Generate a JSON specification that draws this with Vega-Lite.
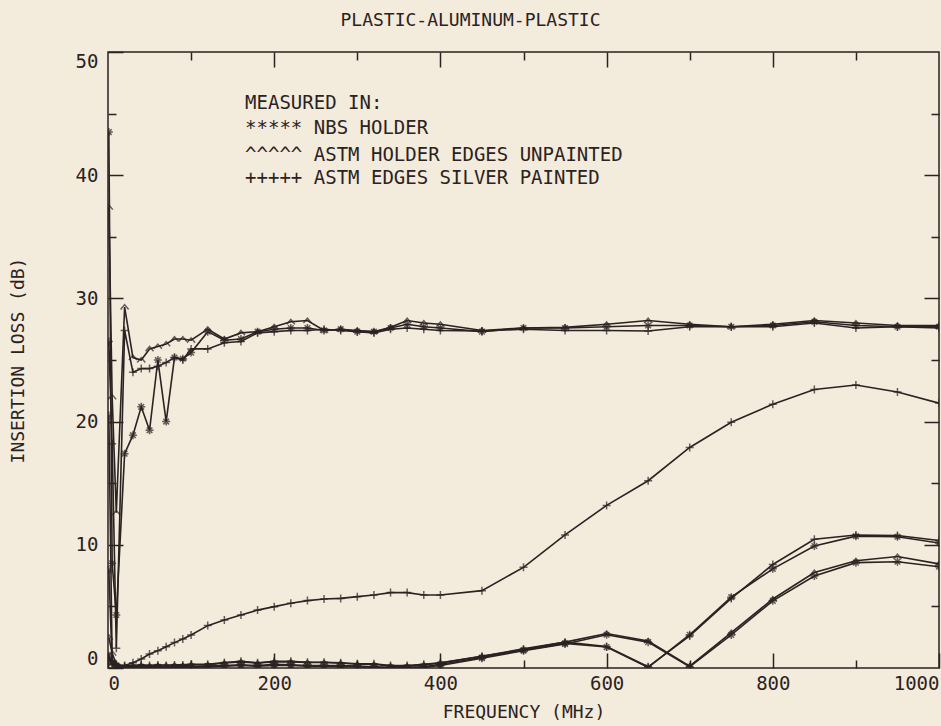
{
  "$schema": "https://vega.github.io/schema/vega-lite/v6.json",
  "width": 831,
  "height": 616,
  "autosize": {"type": "none"},
  "padding": {"left": 108, "top": 52, "right": 2, "bottom": 58},
  "background": "#f3ebdb",
  "config": {
    "view": {"stroke": "#2b2222", "strokeWidth": 1.5},
    "font": "DejaVu Sans Mono",
    "axis": {
      "grid": false, "domain": false,
      "tickColor": "#2b2222", "tickWidth": 1.5,
      "labelColor": "#2b2222", "titleColor": "#2b2222",
      "labelFont": "DejaVu Sans Mono", "titleFont": "DejaVu Sans Mono",
      "labelFontSize": 19, "titleFontSize": 18, "titleFontWeight": "normal",
      "labelOverlap": false
    }
  },
  "title": {
    "text": "PLASTIC-ALUMINUM-PLASTIC",
    "font": "DejaVu Sans Mono", "fontSize": 18, "fontWeight": "normal",
    "color": "#2b2222", "anchor": "middle", "dx": -53, "offset": 21
  },
  "data": {"values": [
    {"c":"U","f":1,"v":37.4},{"c":"U","f":5,"v":22.0},{"c":"U","f":10,"v":12.6},{"c":"U","f":20,"v":29.3},{"c":"U","f":30,"v":25.2},{"c":"U","f":40,"v":25.0},{"c":"U","f":50,"v":25.9},{"c":"U","f":60,"v":26.1},{"c":"U","f":70,"v":26.3},{"c":"U","f":80,"v":26.7},{"c":"U","f":90,"v":26.7},{"c":"U","f":100,"v":26.6},{"c":"U","f":120,"v":27.5},{"c":"U","f":140,"v":26.7},{"c":"U","f":160,"v":27.2},{"c":"U","f":180,"v":27.3},{"c":"U","f":200,"v":27.7},{"c":"U","f":220,"v":28.1},{"c":"U","f":240,"v":28.2},{"c":"U","f":260,"v":27.4},{"c":"U","f":280,"v":27.5},{"c":"U","f":300,"v":27.4},{"c":"U","f":320,"v":27.3},{"c":"U","f":340,"v":27.65},{"c":"U","f":360,"v":28.2},{"c":"U","f":380,"v":28.0},{"c":"U","f":400,"v":27.9},{"c":"U","f":450,"v":27.4},{"c":"U","f":500,"v":27.6},{"c":"U","f":550,"v":27.65},{"c":"U","f":600,"v":27.9},{"c":"U","f":650,"v":28.2},{"c":"U","f":700,"v":27.9},{"c":"U","f":750,"v":27.7},{"c":"U","f":800,"v":27.9},{"c":"U","f":850,"v":28.2},{"c":"U","f":900,"v":28.0},{"c":"U","f":950,"v":27.8},{"c":"U","f":1000,"v":27.8},
    {"c":"P","f":1,"v":26.5},{"c":"P","f":5,"v":18.2},{"c":"P","f":10,"v":1.6},{"c":"P","f":20,"v":27.4},{"c":"P","f":30,"v":24.0},{"c":"P","f":40,"v":24.3},{"c":"P","f":50,"v":24.3},{"c":"P","f":60,"v":24.5},{"c":"P","f":70,"v":24.8},{"c":"P","f":80,"v":25.2},{"c":"P","f":90,"v":25.0},{"c":"P","f":100,"v":25.9},{"c":"P","f":120,"v":25.9},{"c":"P","f":140,"v":26.4},{"c":"P","f":160,"v":26.5},{"c":"P","f":180,"v":27.2},{"c":"P","f":200,"v":27.3},{"c":"P","f":220,"v":27.4},{"c":"P","f":240,"v":27.4},{"c":"P","f":260,"v":27.5},{"c":"P","f":280,"v":27.4},{"c":"P","f":300,"v":27.3},{"c":"P","f":320,"v":27.2},{"c":"P","f":340,"v":27.5},{"c":"P","f":360,"v":27.6},{"c":"P","f":380,"v":27.5},{"c":"P","f":400,"v":27.4},{"c":"P","f":450,"v":27.35},{"c":"P","f":500,"v":27.5},{"c":"P","f":550,"v":27.4},{"c":"P","f":600,"v":27.4},{"c":"P","f":650,"v":27.35},{"c":"P","f":700,"v":27.7},{"c":"P","f":750,"v":27.7},{"c":"P","f":800,"v":27.7},{"c":"P","f":850,"v":28.0},{"c":"P","f":900,"v":27.6},{"c":"P","f":950,"v":27.7},{"c":"P","f":1000,"v":27.6},
    {"c":"N","f":1,"v":43.5},{"c":"N","f":5,"v":8.5},{"c":"N","f":10,"v":4.3},{"c":"N","f":20,"v":17.4},{"c":"N","f":30,"v":18.9},{"c":"N","f":40,"v":21.2},{"c":"N","f":50,"v":19.3},{"c":"N","f":60,"v":25.0},{"c":"N","f":70,"v":20.0},{"c":"N","f":80,"v":25.2},{"c":"N","f":90,"v":25.1},{"c":"N","f":100,"v":25.6},{"c":"N","f":120,"v":27.3},{"c":"N","f":140,"v":26.6},{"c":"N","f":160,"v":26.7},{"c":"N","f":180,"v":27.3},{"c":"N","f":200,"v":27.5},{"c":"N","f":220,"v":27.6},{"c":"N","f":240,"v":27.6},{"c":"N","f":260,"v":27.4},{"c":"N","f":280,"v":27.5},{"c":"N","f":300,"v":27.3},{"c":"N","f":320,"v":27.3},{"c":"N","f":340,"v":27.6},{"c":"N","f":360,"v":27.9},{"c":"N","f":380,"v":27.7},{"c":"N","f":400,"v":27.6},{"c":"N","f":450,"v":27.3},{"c":"N","f":500,"v":27.6},{"c":"N","f":550,"v":27.6},{"c":"N","f":600,"v":27.7},{"c":"N","f":650,"v":27.8},{"c":"N","f":700,"v":27.8},{"c":"N","f":750,"v":27.7},{"c":"N","f":800,"v":27.8},{"c":"N","f":850,"v":28.1},{"c":"N","f":900,"v":27.8},{"c":"N","f":950,"v":27.7},{"c":"N","f":1000,"v":27.7},
    {"c":"R","f":1,"v":0.8},{"c":"R","f":5,"v":0.3},{"c":"R","f":10,"v":0.1},{"c":"R","f":20,"v":0.2},{"c":"R","f":30,"v":0.43},{"c":"R","f":40,"v":0.73},{"c":"R","f":50,"v":1.14},{"c":"R","f":60,"v":1.4},{"c":"R","f":70,"v":1.73},{"c":"R","f":80,"v":2.06},{"c":"R","f":90,"v":2.35},{"c":"R","f":100,"v":2.68},{"c":"R","f":120,"v":3.44},{"c":"R","f":140,"v":3.9},{"c":"R","f":160,"v":4.3},{"c":"R","f":180,"v":4.7},{"c":"R","f":200,"v":4.98},{"c":"R","f":220,"v":5.25},{"c":"R","f":240,"v":5.47},{"c":"R","f":260,"v":5.6},{"c":"R","f":280,"v":5.65},{"c":"R","f":300,"v":5.79},{"c":"R","f":320,"v":5.93},{"c":"R","f":340,"v":6.12},{"c":"R","f":360,"v":6.12},{"c":"R","f":380,"v":5.93},{"c":"R","f":400,"v":5.93},{"c":"R","f":450,"v":6.28},{"c":"R","f":500,"v":8.17},{"c":"R","f":550,"v":10.8},{"c":"R","f":600,"v":13.2},{"c":"R","f":650,"v":15.2},{"c":"R","f":700,"v":17.9},{"c":"R","f":750,"v":19.95},{"c":"R","f":800,"v":21.4},{"c":"R","f":850,"v":22.6},{"c":"R","f":900,"v":22.97},{"c":"R","f":950,"v":22.4},{"c":"R","f":1000,"v":21.5},
    {"c":"A1","f":1,"v":20.5},{"c":"A1","f":5,"v":0.6},{"c":"A1","f":10,"v":0.3},{"c":"A1","f":20,"v":0.15},{"c":"A1","f":30,"v":0.2},{"c":"A1","f":40,"v":0.25},{"c":"A1","f":50,"v":0.2},{"c":"A1","f":60,"v":0.25},{"c":"A1","f":70,"v":0.2},{"c":"A1","f":80,"v":0.25},{"c":"A1","f":90,"v":0.25},{"c":"A1","f":100,"v":0.3},{"c":"A1","f":120,"v":0.3},{"c":"A1","f":140,"v":0.45},{"c":"A1","f":160,"v":0.55},{"c":"A1","f":180,"v":0.42},{"c":"A1","f":200,"v":0.55},{"c":"A1","f":220,"v":0.55},{"c":"A1","f":240,"v":0.47},{"c":"A1","f":260,"v":0.47},{"c":"A1","f":280,"v":0.42},{"c":"A1","f":300,"v":0.35},{"c":"A1","f":320,"v":0.35},{"c":"A1","f":340,"v":0.2},{"c":"A1","f":360,"v":0.2},{"c":"A1","f":380,"v":0.3},{"c":"A1","f":400,"v":0.43},{"c":"A1","f":450,"v":0.95},{"c":"A1","f":500,"v":1.55},{"c":"A1","f":550,"v":2.1},{"c":"A1","f":600,"v":1.75},{"c":"A1","f":650,"v":0.1},{"c":"A1","f":700,"v":2.6},{"c":"A1","f":750,"v":5.65},{"c":"A1","f":800,"v":8.4},{"c":"A1","f":850,"v":10.45},{"c":"A1","f":900,"v":10.8},{"c":"A1","f":950,"v":10.75},{"c":"A1","f":1000,"v":10.35},
    {"c":"A2","f":1,"v":7.95},{"c":"A2","f":5,"v":0.5},{"c":"A2","f":10,"v":0.2},{"c":"A2","f":20,"v":0.05},{"c":"A2","f":30,"v":0.05},{"c":"A2","f":40,"v":0.1},{"c":"A2","f":50,"v":0.05},{"c":"A2","f":60,"v":0.1},{"c":"A2","f":70,"v":0.05},{"c":"A2","f":80,"v":0.1},{"c":"A2","f":90,"v":0.1},{"c":"A2","f":100,"v":0.1},{"c":"A2","f":120,"v":0.15},{"c":"A2","f":140,"v":0.2},{"c":"A2","f":160,"v":0.25},{"c":"A2","f":180,"v":0.2},{"c":"A2","f":200,"v":0.3},{"c":"A2","f":220,"v":0.25},{"c":"A2","f":240,"v":0.2},{"c":"A2","f":260,"v":0.2},{"c":"A2","f":280,"v":0.2},{"c":"A2","f":300,"v":0.15},{"c":"A2","f":320,"v":0.1},{"c":"A2","f":340,"v":0.05},{"c":"A2","f":360,"v":0.05},{"c":"A2","f":380,"v":0.1},{"c":"A2","f":400,"v":0.3},{"c":"A2","f":450,"v":0.85},{"c":"A2","f":500,"v":1.45},{"c":"A2","f":550,"v":2.0},{"c":"A2","f":600,"v":1.7},{"c":"A2","f":650,"v":0.05},{"c":"A2","f":700,"v":2.7},{"c":"A2","f":750,"v":5.75},{"c":"A2","f":800,"v":8.05},{"c":"A2","f":850,"v":9.9},{"c":"A2","f":900,"v":10.7},{"c":"A2","f":950,"v":10.65},{"c":"A2","f":1000,"v":10.15},
    {"c":"B1","f":1,"v":2.5},{"c":"B1","f":5,"v":1.2},{"c":"B1","f":10,"v":0.3},{"c":"B1","f":20,"v":0.1},{"c":"B1","f":30,"v":0.15},{"c":"B1","f":40,"v":0.2},{"c":"B1","f":50,"v":0.15},{"c":"B1","f":60,"v":0.2},{"c":"B1","f":70,"v":0.2},{"c":"B1","f":80,"v":0.2},{"c":"B1","f":90,"v":0.2},{"c":"B1","f":100,"v":0.25},{"c":"B1","f":120,"v":0.25},{"c":"B1","f":140,"v":0.4},{"c":"B1","f":160,"v":0.5},{"c":"B1","f":180,"v":0.4},{"c":"B1","f":200,"v":0.5},{"c":"B1","f":220,"v":0.5},{"c":"B1","f":240,"v":0.45},{"c":"B1","f":260,"v":0.45},{"c":"B1","f":280,"v":0.4},{"c":"B1","f":300,"v":0.3},{"c":"B1","f":320,"v":0.3},{"c":"B1","f":340,"v":0.15},{"c":"B1","f":360,"v":0.15},{"c":"B1","f":380,"v":0.25},{"c":"B1","f":400,"v":0.4},{"c":"B1","f":450,"v":0.95},{"c":"B1","f":500,"v":1.5},{"c":"B1","f":550,"v":2.1},{"c":"B1","f":600,"v":2.8},{"c":"B1","f":650,"v":2.2},{"c":"B1","f":700,"v":0.15},{"c":"B1","f":750,"v":2.87},{"c":"B1","f":800,"v":5.6},{"c":"B1","f":850,"v":7.75},{"c":"B1","f":900,"v":8.7},{"c":"B1","f":950,"v":9.05},{"c":"B1","f":1000,"v":8.45},
    {"c":"B2","f":1,"v":1.0},{"c":"B2","f":5,"v":0.4},{"c":"B2","f":10,"v":0.2},{"c":"B2","f":20,"v":0.0},{"c":"B2","f":30,"v":0.0},{"c":"B2","f":40,"v":0.05},{"c":"B2","f":50,"v":0.0},{"c":"B2","f":60,"v":0.05},{"c":"B2","f":70,"v":0.0},{"c":"B2","f":80,"v":0.05},{"c":"B2","f":90,"v":0.05},{"c":"B2","f":100,"v":0.05},{"c":"B2","f":120,"v":0.1},{"c":"B2","f":140,"v":0.15},{"c":"B2","f":160,"v":0.2},{"c":"B2","f":180,"v":0.15},{"c":"B2","f":200,"v":0.2},{"c":"B2","f":220,"v":0.2},{"c":"B2","f":240,"v":0.15},{"c":"B2","f":260,"v":0.15},{"c":"B2","f":280,"v":0.1},{"c":"B2","f":300,"v":0.1},{"c":"B2","f":320,"v":0.05},{"c":"B2","f":340,"v":0.0},{"c":"B2","f":360,"v":0.0},{"c":"B2","f":380,"v":0.05},{"c":"B2","f":400,"v":0.2},{"c":"B2","f":450,"v":0.8},{"c":"B2","f":500,"v":1.4},{"c":"B2","f":550,"v":1.95},{"c":"B2","f":600,"v":2.7},{"c":"B2","f":650,"v":2.1},{"c":"B2","f":700,"v":0.1},{"c":"B2","f":750,"v":2.68},{"c":"B2","f":800,"v":5.45},{"c":"B2","f":850,"v":7.47},{"c":"B2","f":900,"v":8.55},{"c":"B2","f":950,"v":8.63},{"c":"B2","f":1000,"v":8.22}
  ]},
  "resolve": {"axis": {"x": "independent", "y": "independent"}},
  "layer": [
    {
      "mark": {"type": "line", "color": "#2b2222", "strokeWidth": 1.6, "clip": true},
      "encoding": {
        "x": {"field": "f", "type": "quantitative", "scale": {"domain": [0, 1000], "nice": false, "zero": false},
              "axis": {"orient": "bottom", "values": [0, 200, 400, 600, 800, 1000], "format": "d", "tickSize": -15, "labelPadding": 21, "labelFlush": true,
                       "title": "FREQUENCY (MHz)", "titleY": 44, "titleBaseline": "middle"}},
        "y": {"field": "v", "type": "quantitative", "scale": {"domain": [0, 50], "nice": false},
              "axis": {"orient": "left", "values": [0, 10, 20, 30, 40, 50], "format": "d", "tickSize": -15, "labelPadding": 25, "labelFlush": true,
                       "title": "INSERTION LOSS (dB)", "titleX": -90, "titleBaseline": "middle"}},
        "detail": {"field": "c"}
      }
    },
    {
      "mark": {"type": "point", "filled": false, "color": "#2b2222", "strokeWidth": 1.5, "size": 64, "clip": true},
      "encoding": {
        "x": {"field": "f", "type": "quantitative",
              "axis": {"orient": "bottom", "values": [100, 300, 500, 700, 900], "tickSize": -8, "labels": false, "title": null}},
        "y": {"field": "v", "type": "quantitative",
              "axis": {"orient": "left", "values": [5, 15, 25, 35, 45], "tickSize": -8, "labels": false, "title": null}},
        "shape": {"field": "c", "type": "nominal", "legend": null,
                  "scale": {"domain": ["N", "U", "P", "R", "A1", "A2", "B1", "B2"],
                            "range": ["M-1,0L1,0M0,-1L0,1M-0.7,-0.7L0.7,0.7M-0.7,0.7L0.7,-0.7",
                                      "M-1,0.6L0,-0.6L1,0.6",
                                      "M-1,0L1,0M0,-1L0,1",
                                      "M-1,0L1,0M0,-1L0,1",
                                      "M-1,0L1,0M0,-1L0,1",
                                      "M-1,0L1,0M0,-1L0,1M-0.7,-0.7L0.7,0.7M-0.7,0.7L0.7,-0.7",
                                      "M-1,0.6L0,-0.6L1,0.6",
                                      "M-1,0L1,0M0,-1L0,1M-0.7,-0.7L0.7,0.7M-0.7,0.7L0.7,-0.7"]}}
      }
    },
    {
      "mark": {"type": "point", "opacity": 0},
      "encoding": {
        "x": {"field": "f", "type": "quantitative",
              "axis": {"orient": "top", "values": [200, 400, 600, 800], "tickSize": -15, "labels": false, "title": null}},
        "y": {"field": "v", "type": "quantitative",
              "axis": {"orient": "right", "values": [10, 20, 30, 40], "tickSize": -15, "labels": false, "title": null}}
      }
    },
    {
      "mark": {"type": "point", "opacity": 0},
      "encoding": {
        "x": {"field": "f", "type": "quantitative",
              "axis": {"orient": "top", "values": [100, 300, 500, 700, 900], "tickSize": -8, "labels": false, "title": null}},
        "y": {"field": "v", "type": "quantitative",
              "axis": {"orient": "right", "values": [5, 15, 25, 35, 45], "tickSize": -8, "labels": false, "title": null}}
      }
    },
    {
      "data": {"values": [{"t": "MEASURED IN:"}]},
      "mark": {"type": "text", "align": "left", "baseline": "middle", "font": "DejaVu Sans Mono", "fontSize": 19, "color": "#2b2222"},
      "encoding": {"text": {"field": "t"}, "x": {"datum": 165, "type": "quantitative", "axis": null}, "y": {"datum": 45.9, "type": "quantitative", "axis": null}}
    },
    {
      "data": {"values": [{"t": "***** NBS HOLDER"}]},
      "mark": {"type": "text", "align": "left", "baseline": "middle", "font": "DejaVu Sans Mono", "fontSize": 19, "color": "#2b2222"},
      "encoding": {"text": {"field": "t"}, "x": {"datum": 165, "type": "quantitative", "axis": null}, "y": {"datum": 43.8, "type": "quantitative", "axis": null}}
    },
    {
      "data": {"values": [{"t": "^^^^^ ASTM HOLDER EDGES UNPAINTED"}]},
      "mark": {"type": "text", "align": "left", "baseline": "middle", "font": "DejaVu Sans Mono", "fontSize": 19, "color": "#2b2222"},
      "encoding": {"text": {"field": "t"}, "x": {"datum": 165, "type": "quantitative", "axis": null}, "y": {"datum": 41.6, "type": "quantitative", "axis": null}}
    },
    {
      "data": {"values": [{"t": "+++++ ASTM EDGES SILVER PAINTED"}]},
      "mark": {"type": "text", "align": "left", "baseline": "middle", "font": "DejaVu Sans Mono", "fontSize": 19, "color": "#2b2222"},
      "encoding": {"text": {"field": "t"}, "x": {"datum": 165, "type": "quantitative", "axis": null}, "y": {"datum": 39.8, "type": "quantitative", "axis": null}}
    }
  ]
}
